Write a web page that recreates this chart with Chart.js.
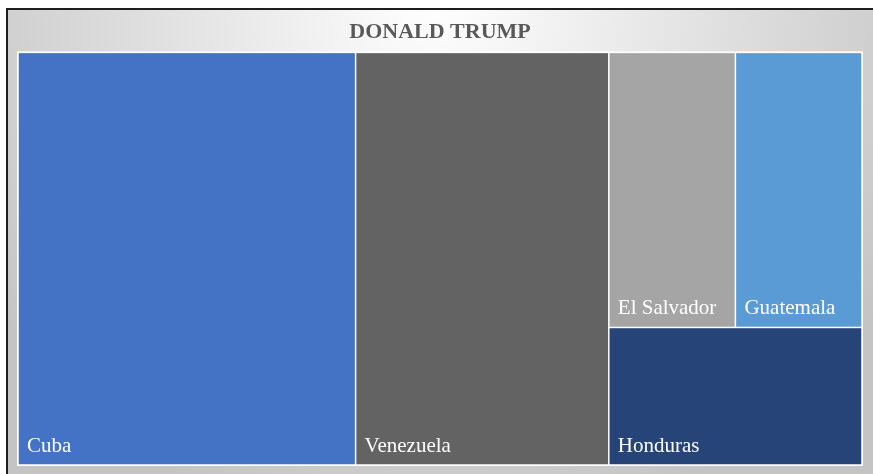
<!DOCTYPE html>
<html>
<head>
<meta charset="utf-8">
<script src="https://cdn.jsdelivr.net/npm/chart.js@4.4.1/dist/chart.umd.min.js"></script>
<style>
  html, body { margin: 0; padding: 0; background: #ffffff; }
  #wrap { width: 873px; height: 474px; }
</style>
</head>
<body>
<div id="wrap"><canvas id="treeChart"></canvas></div>
<script>
// Tile data, largest first
const countries = ['Cuba', 'Venezuela', 'Honduras', 'El Salvador', 'Guatemala'];
const shares = [40, 30, 10, 10, 10];
const tileColors = ['#4472C4', '#636363', '#264478', '#A5A5A5', '#5B9BD5'];

const serif = "'Liberation Serif', 'Times New Roman', serif";

// Worst aspect ratio of a strip of areas laid along a side of given length
function worstRatio(areas, side) {
    const sum = areas.reduce((a, b) => a + b, 0);
    const thick = sum / side;
    let worst = 0;
    areas.forEach(a => {
        const len = a / thick;
        worst = Math.max(worst, Math.max(len / thick, thick / len));
    });
    return worst;
}

// Squarified layout in pixel-proportional units; strips start at the left
// (wide space) or at the bottom (tall space).
function squarify(items, x, y, w, h, out) {
    if (!items.length) return;
    const side = Math.min(w, h);
    let row = [items[0]];
    // short tails stay in one strip while they remain reasonably square
    if (worstRatio(items.map(i => i.area), side) <= 2.5) {
        row = items.slice();
    } else {
        for (let i = 1; i < items.length; i++) {
            const next = row.concat(items[i]);
            if (worstRatio(next.map(r => r.area), side) <= worstRatio(row.map(r => r.area), side)) {
                row = next;
            } else {
                break;
            }
        }
    }
    const sum = row.reduce((a, r) => a + r.area, 0);
    const thick = sum / side;
    let pos = 0;
    row.forEach(r => {
        const len = r.area / thick;
        if (w >= h) {
            out.push({ item: r, x0: x, x1: x + thick, y0: y + h - pos - len, y1: y + h - pos });
        } else {
            out.push({ item: r, x0: x + pos, x1: x + pos + len, y0: y, y1: y + thick });
        }
        pos += len;
    });
    const rest = items.slice(row.length);
    if (w >= h) squarify(rest, x + thick, y, w - thick, h, out);
    else squarify(rest, x, y + thick, w, h - thick, out);
}

const frameBackground = {
    id: 'frameBackground',
    beforeDraw(chart) {
        const { ctx, width, height } = chart;
        ctx.save();
        ctx.fillStyle = '#ffffff';
        ctx.fillRect(0, 0, width, height);
        const g = ctx.createRadialGradient(436, 0, 0, 436, 0, 540);
        g.addColorStop(0, '#ffffff');
        g.addColorStop(1, '#c4c4c4');
        ctx.fillStyle = g;
        ctx.fillRect(7, 9, width, height);
        ctx.strokeStyle = '#1e1e1e';
        ctx.lineWidth = 2;
        ctx.strokeRect(7, 9, width + 10, height + 10);
        ctx.restore();
    }
};

const treemapTiles = {
    id: 'treemapTiles',
    afterDatasetsDraw(chart) {
        const { ctx, chartArea } = chart;
        const xs = chart.scales.x, ys = chart.scales.y;
        const W = chartArea.width, H = chartArea.height;
        const total = shares.reduce((a, b) => a + b, 0);

        // areas in pixel-proportional units so the ratios are real
        const items = countries.map((name, i) => ({
            name, color: tileColors[i], area: shares[i] / total * W * H
        })).sort((a, b) => b.area - a.area);
        const rects = [];
        squarify(items, 0, 0, W, H, rects);

        ctx.save();
        ctx.fillStyle = '#ffffff';
        ctx.fillRect(chartArea.left - 1, chartArea.top - 1, W + 2, H + 2);
        const gap = 0.75;
        rects.forEach(r => {
            const left = xs.getPixelForValue(r.x0 / W);
            const right = xs.getPixelForValue(r.x1 / W);
            const top = ys.getPixelForValue(r.y1 / H);
            const bottom = ys.getPixelForValue(r.y0 / H);
            ctx.fillStyle = r.item.color;
            ctx.fillRect(left + gap, top + gap, right - left - 2 * gap, bottom - top - 2 * gap);
            ctx.fillStyle = '#ffffff';
            ctx.font = '21px ' + serif;
            ctx.textAlign = 'left';
            ctx.textBaseline = 'alphabetic';
            ctx.fillText(r.item.name, left + 9, bottom - 13);
        });
        ctx.restore();
    }
};

new Chart(document.getElementById('treeChart'), {
    type: 'scatter',
    data: { datasets: [] },
    options: {
        responsive: true,
        maintainAspectRatio: false,
        animation: false,
        layout: { padding: { left: 18, right: 11, bottom: 9, top: 0 } },
        plugins: {
            legend: { display: false },
            tooltip: { enabled: false },
            title: {
                display: true,
                text: 'DONALD TRUMP',
                color: '#595959',
                font: { family: serif, size: 22, weight: 'bold' },
                padding: { top: 19, bottom: 7 }
            }
        },
        scales: {
            x: { type: 'linear', min: 0, max: 1, display: false },
            y: { type: 'linear', min: 0, max: 1, display: false }
        }
    },
    plugins: [frameBackground, treemapTiles]
});
</script>
</body>
</html>
